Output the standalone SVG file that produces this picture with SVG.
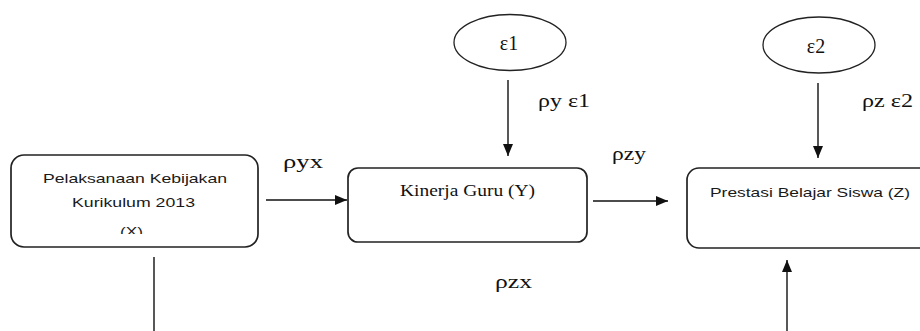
<svg xmlns="http://www.w3.org/2000/svg" width="920" height="331" viewBox="0 0 920 331">
<style>
.box{fill:#fff;stroke:#222;stroke-width:1.7}
.ell{fill:#fff;stroke:#222;stroke-width:1.3}
.ln{stroke:#111;stroke-width:1.4;fill:none}
.ser{font-family:"Liberation Serif","Times New Roman",serif;fill:#111}
.san{font-family:"Liberation Sans",Arial,sans-serif;fill:#1a1a1a}
</style>
<defs>
<marker id="ah" viewBox="0 0 12 10" refX="12" refY="5" markerWidth="12" markerHeight="10" markerUnits="userSpaceOnUse" orient="auto">
<path d="M0,0 L12,5 L0,10 Z" fill="#111"/>
</marker>
<clipPath id="cx"><rect x="0" y="0" width="920" height="234"/></clipPath>
</defs>
<rect width="920" height="331" fill="#fff"/>
<g id="connectors">
<line class="ln" x1="266" y1="200" x2="347" y2="200" marker-end="url(#ah)"/>
<line class="ln" x1="593" y1="201" x2="668" y2="201" marker-end="url(#ah)"/>
<line class="ln" x1="508" y1="80" x2="508" y2="156" marker-end="url(#ah)"/>
<line class="ln" x1="818" y1="83" x2="818" y2="158" marker-end="url(#ah)"/>
<line class="ln" x1="154" y1="257" x2="154" y2="331"/>
<line class="ln" x1="787" y1="331" x2="787" y2="260" marker-end="url(#ah)"/>
<text class="ser" x="283" y="168" font-size="19" textLength="40" lengthAdjust="spacingAndGlyphs">ρyx</text>
<text class="ser" x="538" y="107" font-size="19" textLength="52" lengthAdjust="spacingAndGlyphs">ρy ε1</text>
<text class="ser" x="612" y="160" font-size="19" textLength="34" lengthAdjust="spacingAndGlyphs">ρzy</text>
<text class="ser" x="495" y="288" font-size="19" textLength="37" lengthAdjust="spacingAndGlyphs">ρzx</text>
<text class="ser" x="862" y="107" font-size="19" textLength="51" lengthAdjust="spacingAndGlyphs">ρz ε2</text>
</g>
<g id="nodeX">
<rect class="box" x="11" y="155" width="247" height="92" rx="13"/>
<text class="san" x="43" y="183" font-size="13" textLength="184" lengthAdjust="spacingAndGlyphs">Pelaksanaan Kebijakan</text>
<text class="san" x="72" y="207" font-size="13" textLength="123" lengthAdjust="spacingAndGlyphs">Kurikulum 2013</text>
<text class="san" x="120" y="236" font-size="13" textLength="23" lengthAdjust="spacingAndGlyphs" clip-path="url(#cx)">(X)</text>
</g>
<g id="nodeY">
<rect class="box" x="348" y="168" width="239" height="74" rx="10"/>
<text class="ser" x="400" y="196" font-size="16.5" textLength="135" lengthAdjust="spacingAndGlyphs">Kinerja Guru (Y)</text>
</g>
<g id="nodeZ">
<rect class="box" x="687" y="168" width="250" height="80" rx="12"/>
<text class="san" x="710" y="197" font-size="13.5" textLength="200" lengthAdjust="spacingAndGlyphs">Prestasi Belajar  Siswa (Z)</text>
</g>
<g id="nodeE1">
<ellipse class="ell" cx="510" cy="42.5" rx="56" ry="28"/>
<text class="ser" x="509" y="50" font-size="20" text-anchor="middle">ε1</text>
</g>
<g id="nodeE2">
<ellipse class="ell" cx="819" cy="45" rx="56" ry="28"/>
<text class="ser" x="816" y="53" font-size="20" text-anchor="middle">ε2</text>
</g>
</svg>
